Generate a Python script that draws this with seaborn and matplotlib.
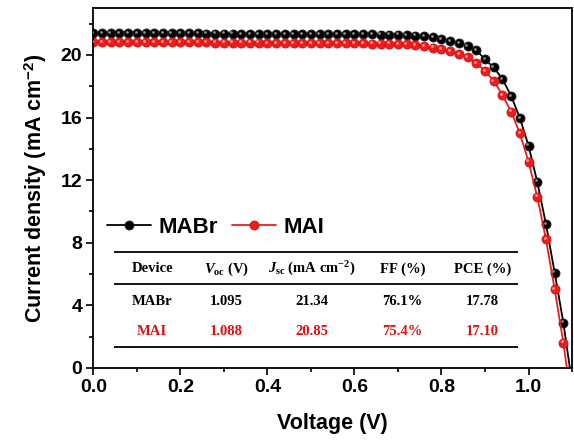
import numpy as np
import pandas as pd
import seaborn as sns
import matplotlib.pyplot as plt
from matplotlib.transforms import offset_copy
from matplotlib.ticker import MultipleLocator

# J-V data (V in volts, J in mA cm-2)
voltage = [0.00, 0.02, 0.04, 0.06, 0.08, 0.10, 0.12, 0.14, 0.16, 0.18,
           0.20, 0.22, 0.24, 0.26, 0.28, 0.30, 0.32, 0.34, 0.36, 0.38,
           0.40, 0.42, 0.44, 0.46, 0.48, 0.50, 0.52, 0.54, 0.56, 0.58,
           0.60, 0.62, 0.64, 0.66, 0.68, 0.70, 0.72, 0.74, 0.76, 0.78,
           0.80, 0.82, 0.84, 0.86, 0.88, 0.90, 0.92, 0.94, 0.96, 0.98,
           1.00, 1.02, 1.04, 1.06, 1.08]
j_mabr = [21.40, 21.40, 21.39, 21.39, 21.39, 21.38, 21.38, 21.38, 21.38, 21.37,
          21.37, 21.37, 21.37, 21.36, 21.36, 21.36, 21.36, 21.35, 21.35, 21.35,
          21.35, 21.34, 21.34, 21.34, 21.34, 21.33, 21.33, 21.33, 21.33, 21.32,
          21.32, 21.32, 21.31, 21.30, 21.30, 21.29, 21.27, 21.24, 21.19, 21.12,
          21.01, 20.87, 20.74, 20.58, 20.30, 19.72, 19.20, 18.47, 17.38, 15.98,
          14.20, 11.90, 9.20, 6.10, 2.90]
j_mai = [20.84, 20.84, 20.83, 20.83, 20.83, 20.82, 20.82, 20.82, 20.81, 20.81,
         20.81, 20.80, 20.80, 20.80, 20.79, 20.79, 20.79, 20.78, 20.78, 20.78,
         20.77, 20.77, 20.77, 20.76, 20.76, 20.76, 20.75, 20.75, 20.75, 20.74,
         20.74, 20.74, 20.73, 20.73, 20.72, 20.71, 20.69, 20.64, 20.57, 20.47,
         20.36, 20.24, 20.06, 19.88, 19.46, 18.98, 18.34, 17.44, 16.38, 15.00,
         13.18, 10.95, 8.22, 5.03, 1.62]
voc_mabr = 1.095
voc_mai = 1.088

# table values
table_header = ['Device', r'$\mathit{V}_{\mathrm{oc}}$ (V)',
                r'$\mathit{J}_{\mathrm{sc}}$ (mA cm$^{\mathrm{-2}}$)', 'FF (%)', 'PCE (%)']
row_mabr = ['MABr', '1.095', '21.34', '76.1%', '17.78']
row_mai = ['MAI', '1.088', '20.85', '75.4%', '17.10']

sns.set_style('ticks')
plt.rcParams['font.family'] = ['Liberation Sans', 'DejaVu Sans']
plt.rcParams['font.weight'] = 'bold'
plt.rcParams['text.color'] = 'black'
plt.rcParams['axes.labelcolor'] = 'black'
plt.rcParams['axes.edgecolor'] = 'black'
plt.rcParams['xtick.color'] = 'black'
plt.rcParams['ytick.color'] = 'black'
plt.rcParams['mathtext.fontset'] = 'custom'
plt.rcParams['mathtext.rm'] = 'Liberation Serif:bold'
plt.rcParams['mathtext.it'] = 'Liberation Serif:italic:bold'
plt.rcParams['mathtext.bf'] = 'Liberation Serif:bold'
plt.rcParams['mathtext.sf'] = 'Liberation Sans:bold'

fig = plt.figure(figsize=(5.74, 4.48), dpi=100)
ax = fig.add_axes([0.1626, 0.1786, 0.834, 0.8036])

series = [('MABr', j_mabr, voc_mabr, 'black', '#222222', '#8a8a8a'),
          ('MAI', j_mai, voc_mai, '#ee1c1c', '#d01010', '#ff9a9a')]
for name, jv, voc, col, edge, hl in series:
    df = pd.DataFrame({'V': voltage + [voc], 'J': jv + [0.0]})
    sns.lineplot(data=df, x='V', y='J', ax=ax, color=col, lw=1.3,
                 marker='o', markersize=6.5, markerfacecolor=col,
                 markeredgecolor=edge, markeredgewidth=0.6,
                 markevery=list(range(len(voltage))), label=name)
    # shiny highlight on each ball
    hl_tr = offset_copy(ax.transData, fig=fig, x=-0.9, y=0.9, units='points')
    ax.plot(voltage, jv, 'o', ms=2.0, color=hl, mec='none', transform=hl_tr,
            zorder=3)

ax.set_xlim(0, 1.1)
ax.set_ylim(0, 23)
ax.xaxis.set_major_locator(MultipleLocator(0.2))
ax.xaxis.set_minor_locator(MultipleLocator(0.1))
ax.yaxis.set_major_locator(MultipleLocator(4))
ax.yaxis.set_minor_locator(MultipleLocator(2))
ax.set_xticks([0.0, 0.2, 0.4, 0.6, 0.8, 1.0])
ax.set_xticklabels(['0.0', '0.2', '0.4', '0.6', '0.8', '1.0'])
ax.tick_params(which='major', length=5, width=1.2, labelsize=14, pad=3)
ax.tick_params(which='minor', length=3, width=1.2)
for lab in ax.get_xticklabels() + ax.get_yticklabels():
    lab.set_fontweight('bold')
for s in ax.spines.values():
    s.set_linewidth(1.3)
    s.set_visible(True)

ax.set_xlabel('Voltage (V)', fontsize=15.5, fontweight='bold', labelpad=12)
ax.set_ylabel(r'Current density (mA cm$^{\mathsf{-2}}$)', fontsize=15.5,
              fontweight='bold', labelpad=8)

leg = ax.legend(loc='upper left', bbox_to_anchor=(0.0, 0.456), ncol=2,
                frameon=False, prop={'size': 16, 'weight': 'bold'},
                handlelength=2.0, handletextpad=0.35, columnspacing=0.6,
                borderaxespad=0.2)

# parameter table
col_x = [0.135, 0.305, 0.503, 0.71, 0.894]
ax.hlines([7.43, 5.37, 1.34], 0.048, 0.976, color='black', lw=1.3)
tkw = dict(ha='center', va='center', fontsize=10.5, fontweight='bold',
           family='Liberation Serif')
for x, t in zip(col_x, table_header):
    ax.text(x, 6.33, t, color='black', **tkw)
for x, t in zip(col_x, row_mabr):
    ax.text(x, 4.24, t, color='black', **tkw)
for x, t in zip(col_x, row_mai):
    ax.text(x, 2.32, t, color='#e01010', **tkw)

fig.savefig('out.png', dpi=100)
